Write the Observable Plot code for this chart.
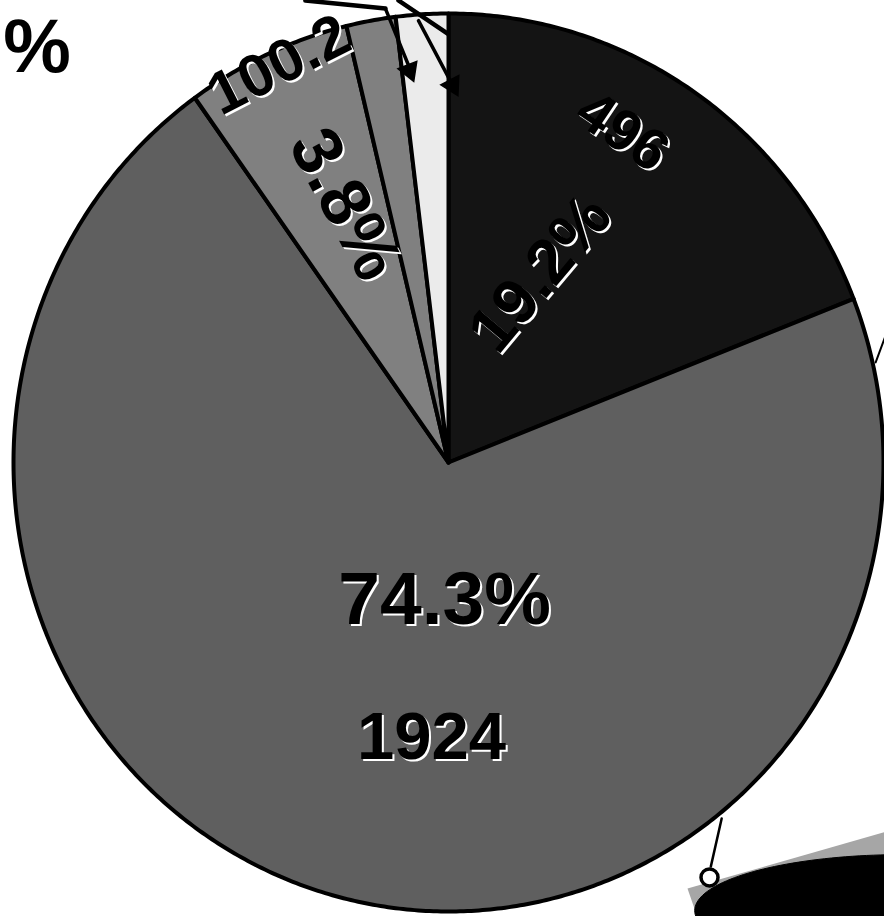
<!DOCTYPE html>
<html><head><meta charset="utf-8">
<script src="https://cdn.jsdelivr.net/npm/d3@7"></script>
<script src="https://cdn.jsdelivr.net/npm/@observablehq/plot@0.6"></script>
<style>
html,body{margin:0;padding:0;background:#fff;overflow:hidden;}
#chart svg{display:block;}
</style></head><body><div id="chart"></div>
<script>
// ---- data ----
const slices = ["496", "1924", "100.2", "small A", "small B"];
const shares = [19.06, 71.03, 6.14, 1.83, 1.94];      // share of the circle as drawn (%)
const valueLabels = ["496", "1924", "100.2"];
const percentLabels = ["19.2%", "74.3%", "3.8%"];
const offChartLabel = ["%"];

// ---- styles ----
const sliceFill = ["#141414", "#5f5f5f", "#808080", "#808080", "#ebebeb"];
const FONT = "'Liberation Sans', Arial, Helvetica, sans-serif";

// ---- pie geometry (unit circle, y up; scales make it a slight ellipse) ----
const pie = d3.pie().sort(null).value(d => d)(shares);
const piePts = [];
pie.forEach((p, i) => {
  const n = Math.max(2, Math.ceil((p.endAngle - p.startAngle) / (Math.PI / 360)));
  piePts.push({slice: slices[i], x: 0, y: 0});
  for (let k = 0; k <= n; k++) {
    const a = p.startAngle + (p.endAngle - p.startAngle) * k / n;
    piePts.push({slice: slices[i], x: Math.sin(a), y: Math.cos(a)});
  }
  piePts.push({slice: slices[i], x: 0, y: 0});
});

// ---- label layout (pie units) ----
const labelLayout = [
  {text: percentLabels[1], x: -0.009, y: -0.307, size: 75, rotate: 0},
  {text: valueLabels[1],   x: -0.039, y: -0.612, size: 67, rotate: 0},
  {text: valueLabels[2],   x: -0.390, y: 0.885,  size: 60, rotate: -27},
  {text: percentLabels[2], x: -0.238, y: 0.575,  size: 70, rotate: 62},
  {text: valueLabels[0],   x: 0.400,  y: 0.737,  size: 58, rotate: 34},
  {text: percentLabels[0], x: 0.211,  y: 0.421,  size: 64, rotate: -50}
];
const offLayout = [{text: offChartLabel[0], x: -0.868, y: 0.924, size: 76}];

// ---- callout leaders coming from labels outside the view ----
const leaders = [
  {x1: -0.329, y1: 1.029, x2: -0.145, y2: 1.011, w: 4.5},
  {x1: -0.145, y1: 1.011, x2: -0.085, y2: 0.868, w: 3.5},
  {x1: -0.115, y1: 1.029, x2: -0.002, y2: 0.955, w: 4.5},
  {x1: -0.069, y1: 0.984, x2: 0.007,  y2: 0.845, w: 3.5},
  {x1: 0.982,  y1: 0.223, x2: 1.016,  y2: 0.312, w: 2},
  {x1: 0.628,  y1: -0.793, x2: 0.603, y2: -0.900, w: 2.5}
];
const arrowHeads = [
  {x: -0.0897, y: 0.873, rotate: 158.6},
  {x: 0.0092,  y: 0.840, rotate: 152.5}
];
const ring = [{x: 0.600, y: -0.924}];
const shadowPoly = [
  {x: 0.5494, y: -0.9488}, {x: 1.177, y: -0.775}, {x: 1.177, y: -1.109}, {x: 0.607, y: -1.109}
];
const ovalCenter = {x: 1.044, y: -0.998, rx: 0.478, ry: 0.1247};
const ovalPts = d3.range(0, 361, 2).map(t => ({
  x: ovalCenter.x + ovalCenter.rx * Math.cos(t * Math.PI / 180),
  y: ovalCenter.y + ovalCenter.ry * Math.sin(t * Math.PI / 180)
}));

const marks = [];
slices.forEach((s, i) => {
  marks.push(Plot.line(piePts.filter(d => d.slice === s), {
    x: "x", y: "y", fill: sliceFill[i], stroke: "#000", strokeWidth: 4,
    strokeLinejoin: "round", curve: "linear"
  }));
});
marks.push(
  Plot.line(shadowPoly.concat([shadowPoly[0]]), {x: "x", y: "y", fill: "#a6a6a6", stroke: "none"}),
  Plot.line(ovalPts, {x: "x", y: "y", fill: "#000", stroke: "#000", strokeWidth: 1}),
  ...leaders.map(l => Plot.link([l], {x1: "x1", y1: "y1", x2: "x2", y2: "y2", stroke: "#000", strokeWidth: l.w, strokeLinecap: "round"})),
  Plot.dot(arrowHeads, {x: "x", y: "y", symbol: "triangle", r: 7.5, fill: "#000", stroke: "#000", rotate: "rotate"}),
  Plot.dot(ring, {x: "x", y: "y", r: 8.5, fill: "#fff", stroke: "#000", strokeWidth: 3.5}),
  Plot.text(labelLayout, {x: "x", y: "y", text: "text", rotate: "rotate", fontSize: "size", fontWeight: "bold",
    fontFamily: FONT, fill: "#fff", dx: 2, dy: 2}),
  Plot.text(labelLayout, {x: "x", y: "y", text: "text", rotate: "rotate", fontSize: "size", fontWeight: "bold",
    fontFamily: FONT, fill: "#000"}),
  Plot.text(offLayout, {x: "x", y: "y", text: "text", fontSize: "size", fontWeight: "bold",
    fontFamily: FONT, fill: "#000", textAnchor: "end"})
);

const chart = Plot.plot({
  width: 884, height: 916, margin: 0,
  x: {domain: [-1, 1], range: [13, 883], axis: null},
  y: {domain: [-1, 1], range: [911, 13], axis: null},
  style: {background: "#fff"},
  marks
});
document.getElementById("chart").append(chart);
</script></body></html>
